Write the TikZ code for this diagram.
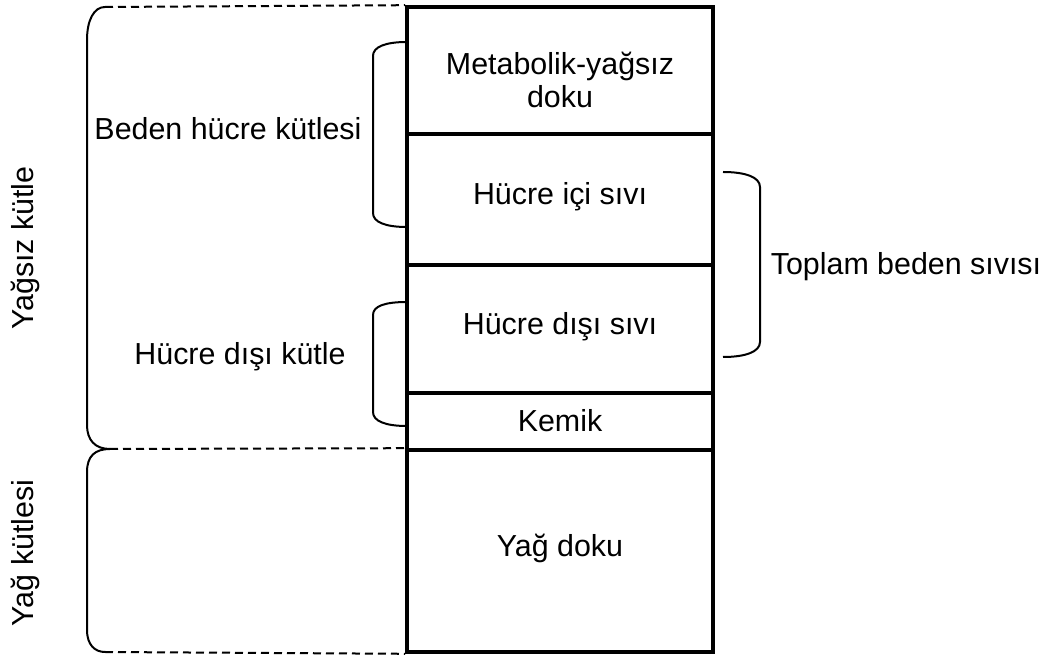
\documentclass[tikz,border=0pt]{standalone}
\usepackage{fontspec}
\setmainfont{Liberation Sans}
\usepackage{tikz}
\usetikzlibrary{calc}

\begin{document}
\begin{tikzpicture}[x=0.5pt,y=-0.5pt,
	every node/.style={font=\fontsize{15.2}{16.5}\selectfont},
	part/.style={draw,line width=1.8pt,minimum width=153pt,inner sep=0pt},
	lbl/.style={anchor=base},
	brace/.style={line width=1pt},
	guide/.style={line width=1pt,dash pattern=on 4pt off 2.5pt}]
				\useasboundingbox (0,0) rectangle (1051,657);
				%% the column of body parts, from top to bottom
				\node[part,minimum height=63.5pt] (metab) at (560,70.5){};
				\node[part,minimum height=65.5pt] (hicsivi) at (560,199.5){};
				\node[part,minimum height=64pt] (hdsivi) at (560,329){};
				\node[part,minimum height=28.5pt] (kemik) at (560,421.5){};
				\node[part,minimum height=101pt] (yag) at (560,551){};
				%% texts inside the column
				\node[lbl,align=center] (tmetab) at (560,108){Metabolik-yağsız\\doku};
				\node[lbl] (thic) at (560,205){Hücre içi sıvı};
				\node[lbl] (thds) at (560,335){Hücre dışı sıvı};
				\node[lbl] (tkem) at (560,432){Kemik};
				\node[lbl] (tyag) at (560,557){Yağ doku};
				%% labels beside the braces
				\node[lbl] (bhk) at (228,140){Beden hücre kütlesi};
				\node[lbl] (hdk) at (240,365){Hücre dışı kütle};
				\node[lbl] (tbs) at (906,275){Toplam beden sıvısı};
				\node[lbl,rotate=90] (yk) at (33,248){Yağsız kütle};
				\node[lbl,rotate=90] (ykl) at (33,553){Yağ kütlesi};
				%% end points of the dashed guides
				\coordinate (g1) at (105,7);
				\coordinate (g2) at (110,449);
				\coordinate (g3) at (105,652);
				\draw[guide] (g1) -- (metab.north west);
				\draw[guide] (g2) -- (yag.north west);
				\draw[guide] (g3) -- (yag.south west);
				%% big brace on the left, two halves meeting at g2
				\draw[brace] (g1) .. controls (94,7) and (87,20) .. (87,40) -- (87,425)
					.. controls (87,440) and (95,449) .. (g2)
					.. controls (95,449) and (87,456) .. (87,472) -- (87,630)
					.. controls (87,645) and (95,652) .. (g3);
				%% small braces
				\draw[brace] (407,42) .. controls (385,42) and (373,47) .. (373,56) -- (373,213)
					.. controls (373,222) and (385,227) .. (407,227);
				\draw[brace] (407,302) .. controls (385,302) and (373,306) .. (373,315) -- (373,412)
					.. controls (373,421) and (385,426) .. (407,426);
				\draw[brace] (723,172) .. controls (745,172) and (760,177) .. (760,187) -- (760,342)
					.. controls (760,352) and (745,357) .. (723,357);
\end{tikzpicture}
\end{document}
